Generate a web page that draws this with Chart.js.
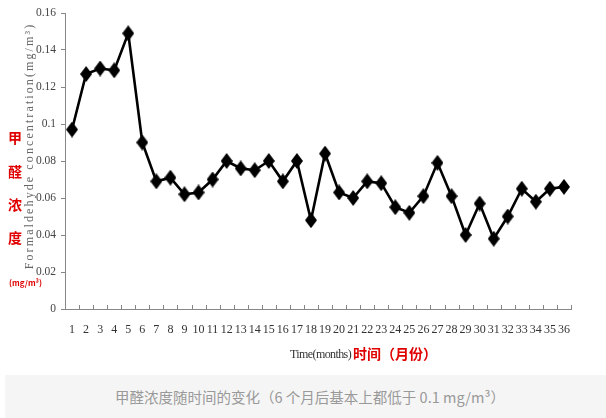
<!DOCTYPE html>
<html>
<head>
<meta charset="utf-8">
<script src="https://cdn.jsdelivr.net/npm/chart.js@4"></script>
<style>
  body { margin: 0; background: #fff; }
  #wrap { position: relative; width: 606px; height: 418px; overflow: hidden; }
  #c { position: absolute; left: 0; top: 0; }
  .red { position: absolute; color: #e00000; font-family: "Noto Sans CJK SC", sans-serif; font-weight: bold; }
  #ytitle { position: absolute; left: 29px; top: 146px; transform: translate(-50%, -50%) rotate(-90deg);
            white-space: nowrap; font-family: "Liberation Serif", serif; font-size: 12px; letter-spacing: 2.1px; color: #666; }
  #xtitle { position: absolute; left: 290px; top: 347px; font-family: "Liberation Serif", serif; font-size: 12px;
            letter-spacing: -0.6px; color: #333; }
  #caption { position: absolute; left: 5px; top: 375px; width: 601px; height: 43px; background: #f5f5f5; box-sizing: border-box;
             padding-left: 9px; color: #999; font-family: "Noto Sans CJK SC", sans-serif; font-size: 14.5px;
             text-align: center; line-height: 43px; }
</style>
</head>
<body>
<div id="wrap">
  <canvas id="c" width="606" height="375"></canvas>
  <div id="ytitle">Formaldehyde concentration(mg/m³)</div>
  <div class="red" style="left:8px;top:127px;font-size:14px">甲</div>
  <div class="red" style="left:8px;top:161px;font-size:14px">醛</div>
  <div class="red" style="left:8px;top:194px;font-size:14px">浓</div>
  <div class="red" style="left:8px;top:227px;font-size:14px">度</div>
  <div class="red" style="left:9px;top:277px;font-size:8px">(mg/m³)</div>
  <div id="xtitle">Time(months)</div>
  <div class="red" style="left:353px;top:343px;font-size:14px">时间（月份）</div>
  <div id="caption">甲醛浓度随时间的变化（6 个月后基本上都低于 0.1 mg/m³）</div>
</div>
<script>
const months = [];
for (let m = 1; m <= 36; m++) months.push(String(m));

const concentration = [
  0.097, 0.127, 0.130, 0.129, 0.149, 0.090, 0.069, 0.071, 0.062, 0.063,
  0.070, 0.080, 0.076, 0.075, 0.080, 0.069, 0.080, 0.048, 0.084, 0.063,
  0.060, 0.069, 0.068, 0.055, 0.052, 0.061, 0.079, 0.061, 0.040, 0.057,
  0.038, 0.050, 0.065, 0.058, 0.065, 0.066
];

const yTicks = [0, 0.02, 0.04, 0.06, 0.08, 0.1, 0.12, 0.14, 0.16];

// tall black diamond marker
const diamond = document.createElement('canvas');
diamond.width = 12; diamond.height = 16;
(function () {
  const g = diamond.getContext('2d');
  g.fillStyle = '#000';
  g.beginPath();
  g.moveTo(6, 0); g.lineTo(12, 8); g.lineTo(6, 16); g.lineTo(0, 8);
  g.closePath();
  g.fill();
})();

// small upward tick marks on the x axis, between categories
const xTickMarks = {
  id: 'xTickMarks',
  afterDraw(chart) {
    const x = chart.scales.x;
    const ctx = chart.ctx;
    const y0 = x.top;
    ctx.save();
    ctx.strokeStyle = '#888';
    ctx.lineWidth = 1;
    ctx.beginPath();
    for (let i = 0; i <= months.length; i++) {
      const px = Math.round(x.getPixelForValue(i - 0.5)) + 0.5;
      ctx.moveTo(px, y0);
      ctx.lineTo(px, y0 - 4);
    }
    ctx.stroke();
    ctx.restore();
  }
};

new Chart(document.getElementById('c'), {
  type: 'line',
  data: {
    labels: months,
    datasets: [{
      data: concentration,
      borderColor: '#000',
      backgroundColor: '#000',
      borderWidth: 2.6,
      pointStyle: diamond,
      pointRadius: 7,
      tension: 0
    }]
  },
  options: {
    responsive: false,
    animation: false,
    layout: { padding: { top: 13, right: 35, left: 0, bottom: 0 } },
    plugins: { legend: { display: false }, tooltip: { enabled: false } },
    scales: {
      x: {
        offset: true,
        grid: { display: false },
        border: { color: '#888', width: 1 },
        ticks: {
          autoSkip: false, maxRotation: 0, padding: 6,
          color: '#333', font: { family: 'Liberation Serif', size: 12 }
        },
        afterFit(scale) { scale.height = 66; }
      },
      y: {
        min: 0, max: 0.16,
        afterBuildTicks(scale) { scale.ticks = yTicks.map(v => ({ value: v })); },
        grid: { drawOnChartArea: false, drawTicks: true, tickLength: 4, color: '#888' },
        border: { color: '#888', width: 1 },
        ticks: {
          padding: 5, color: '#444',
          font: { family: 'Liberation Serif', size: 11.5 },
          callback: v => String(Math.round(v * 100) / 100)
        },
        afterFit(scale) { scale.width = 65; }
      }
    }
  },
  plugins: [xTickMarks]
});
</script>
</body>
</html>
